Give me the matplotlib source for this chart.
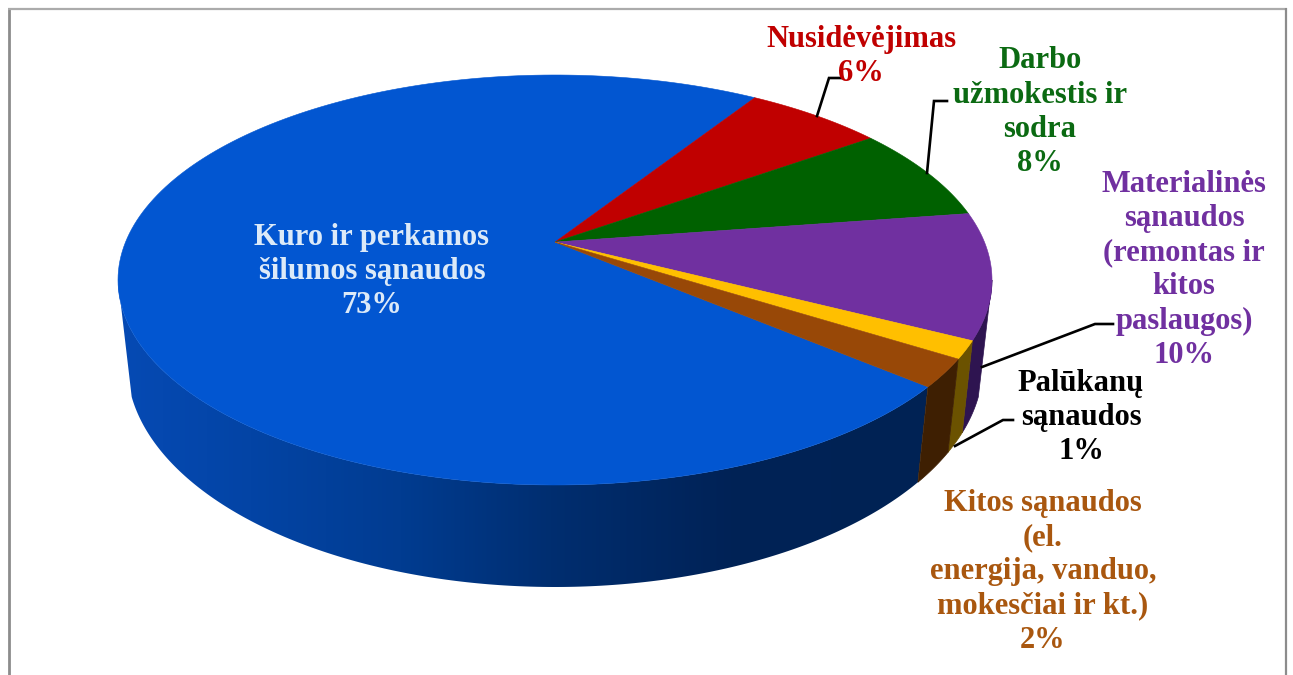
import numpy as np
import matplotlib
matplotlib.use('Agg')
import matplotlib.pyplot as plt
from matplotlib.patches import Polygon

# Shares; the printed labels are the rounded ones
categories = ['Kuro ir perkamos\nšilumos sąnaudos', 'Nusidėvėjimas',
              'Darbo\nužmokestis ir\nsodra',
              'Materialinės\nsąnaudos\n(remontas ir\nkitos\npaslaugos)',
              'Palūkanų\nsąnaudos',
              'Kitos sąnaudos\n(el.\nenergija, vanduo,\nmokesčiai ir kt.)']
shares = [72.9, 6.1, 7.5, 9.9, 1.4, 2.2]
percent_labels = ['73%', '6%', '8%', '10%', '1%', '2%']

top_colors = ['#0256D1', '#C00000', '#006100', '#7030A0', '#FFBF00', '#984807']
side_colors = [None, '#600000', '#003000', '#2E1450', '#6B5200', '#3E1F02']
text_colors = ['#DCEAF8', '#C00000', '#0B6A12', '#7030A0', '#000000', '#A9570F']

# x centre and first line y of every label block
label_x = [372, 861, 1040, 1184, 1081, 1043]
label_y = [237, 39, 61, 184, 383, 503]
LINE_STEP = 34.3

START_ANGLE = -40.1
# centre x, centre y, half width, half height, perspective
TOP = (555, 280, 437, 205, 0.185)
BOTTOM = (555, 364, 428, 223, 0.173)

# Blue wall shading from left to right
WALL_X = [118, 250, 400, 550, 730, 930]
WALL_RGB = np.array([[6, 74, 180], [3, 68, 165], [1, 60, 145],
                     [0, 46, 112], [0, 34, 86], [0, 34, 84]]) / 255


def project(theta_deg, ellipse):
    """Circle angle to picture coordinates on a tilted, perspective ellipse."""
    cx, cy, a, b, k = ellipse
    theta = np.radians(theta_deg)
    u, v = np.cos(theta), np.sin(theta)
    sin_phi = (v + k) / (1 + k * v)
    cos_phi = u * np.sqrt(1 - k ** 2) / (1 + k * v)
    return cx + a * cos_phi, cy - b * sin_phi


def circle_angle(phi_deg, ellipse):
    """Inverse of project: ellipse parameter back to the circle angle."""
    k = ellipse[4]
    phi = np.radians(phi_deg)
    denom = 1 - k * np.sin(phi)
    v = (np.sin(phi) - k) / denom
    u = np.cos(phi) * np.sqrt(1 - k ** 2) / denom
    return np.degrees(np.arctan2(v, u))


fig = plt.figure(figsize=(12.93, 6.75), dpi=100)
ax = fig.add_axes([0, 0, 1, 1])
ax.axis('off')

# Slice edges, clockwise from the start angle
sweeps = np.array(shares) / sum(shares) * 360
edges = START_ANGLE - np.concatenate([[0], np.cumsum(sweeps)])

# Where the silhouette leaves the top and bottom rims
top_right, top_left = circle_angle(0, TOP), circle_angle(-179.99, TOP)
bot_right, bot_left = circle_angle(-8.5, BOTTOM), circle_angle(-171.5, BOTTOM)

# Side walls first (only the part facing the viewer)
for i in range(len(shares)):
    hi, lo = edges[i], edges[i + 1]
    for shift in (0, 360):
        a_top, b_top = min(hi + shift, top_right), max(lo + shift, top_left)
        a_bot, b_bot = min(hi + shift, bot_right), max(lo + shift, bot_left)
        if a_top <= b_top or a_bot <= b_bot:
            continue
        xt, yt = project(np.linspace(a_top, b_top, 200), TOP)
        xb, yb = project(np.linspace(a_bot, b_bot, 200), BOTTOM)
        outline = np.column_stack([np.r_[xt, xb[::-1]], np.r_[yt, yb[::-1]]])
        if side_colors[i] is None:
            xs = np.arange(100, 960)
            shade = np.column_stack([np.interp(xs, WALL_X, WALL_RGB[:, c]) for c in range(3)])
            img = ax.imshow(shade[np.newaxis, :, :], extent=(100, 960, 600, 260),
                            aspect='auto', zorder=2)
            patch = Polygon(outline, closed=True, transform=ax.transData, fc='none', ec='none')
            ax.add_patch(patch)
            img.set_clip_path(patch)
        else:
            ax.fill(outline[:, 0], outline[:, 1], color=side_colors[i], lw=0.5, zorder=2)

# Top face
for i in range(len(shares)):
    thetas = np.linspace(edges[i], edges[i + 1], 200)
    xs, ys = project(thetas, TOP)
    cx, cy = TOP[0], TOP[1] - TOP[3] * TOP[4]
    ax.fill(np.r_[cx, xs], np.r_[cy, ys], color=top_colors[i], lw=0.4, zorder=3)

# Leader lines
leaders = [([817, 829, 841], [116, 78, 78]),
           ([927, 934, 947], [173, 101, 101]),
           ([982, 1095, 1113], [367, 324, 324]),
           ([955, 1003, 1013], [446, 420, 420])]
for xs, ys in leaders:
    ax.plot(xs, ys, color='black', lw=1.9, solid_joinstyle='miter', zorder=4)

# Labels, one text per line so the spacing stays even
for i, name in enumerate(categories):
    lines = name.split('\n') + [percent_labels[i]]
    for n, line in enumerate(lines):
        ax.text(label_x[i], label_y[i] + n * LINE_STEP, line, color=text_colors[i],
                family='Liberation Serif', fontweight='bold', fontsize=22,
                ha='center', va='center', zorder=5)

# Chart frame, open at the bottom of the crop
ax.plot([8.7, 8.7], [675, 8], color='#8C8C8C', lw=2, solid_capstyle='butt', zorder=1)
ax.plot([8, 1287], [8.7, 8.7], color='#ABABAB', lw=1.6, solid_capstyle='butt', zorder=1)
ax.plot([1286, 1286], [8, 675], color='#8C8C8C', lw=1.6, solid_capstyle='butt', zorder=1)

ax.set_xlim(0, 1293)
ax.set_ylim(675, 0)
fig.savefig('out.png', dpi=100)
